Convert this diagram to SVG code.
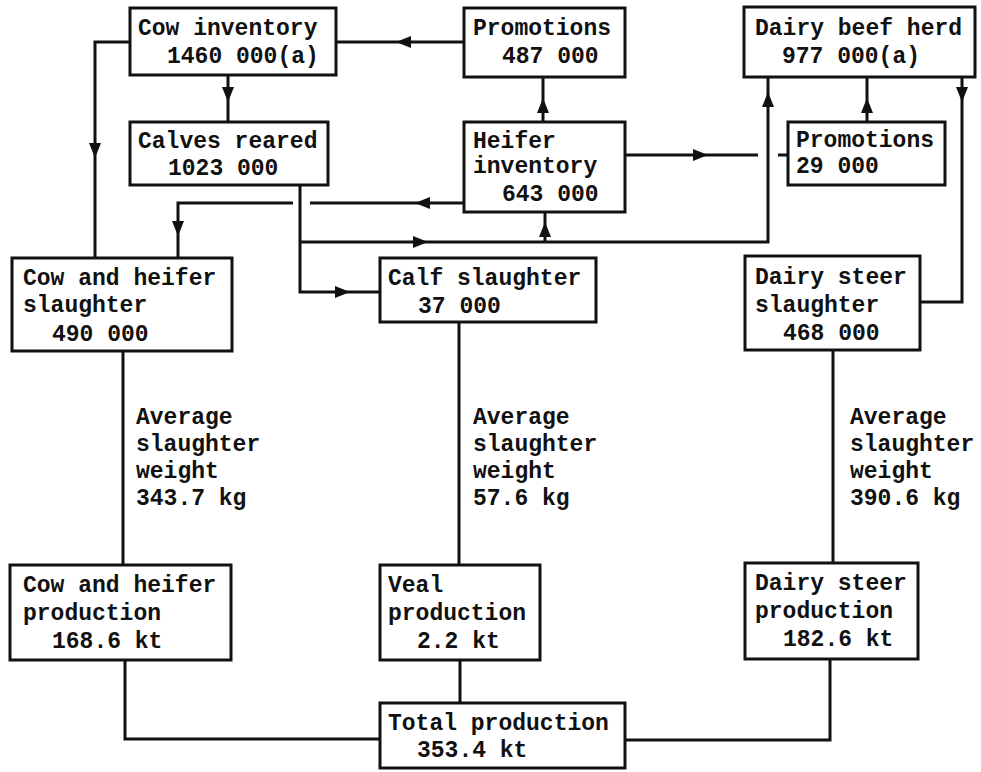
<svg xmlns="http://www.w3.org/2000/svg" width="981" height="772" viewBox="0 0 981 772">
<style>
.box{fill:none;stroke:#111;stroke-width:3}
.ln{fill:none;stroke:#111;stroke-width:3}
text{font-family:"Liberation Mono","Courier New",monospace;font-weight:bold;font-size:23px;fill:#111}
</style>
<defs>
<path id="ah" d="M0,0 L-15,-6 L-15,6 Z" fill="#111"/>
</defs>
<rect width="981" height="772" fill="#fff"/>
<g id="connectors">
<polyline class="ln" points="130,42 95,42 95,258"/>
<line class="ln" x1="228" y1="75" x2="228" y2="122"/>
<line class="ln" x1="464" y1="42" x2="336" y2="42"/>
<line class="ln" x1="543" y1="122" x2="543" y2="77"/>
<line class="ln" x1="625" y1="155" x2="758" y2="155"/>
<line class="ln" x1="778" y1="155" x2="788" y2="155"/>
<polyline class="ln" points="300,185 300,292 380,292"/>
<line class="ln" x1="464" y1="203" x2="310" y2="203"/>
<polyline class="ln" points="293,203 178,203 178,258"/>
<polyline class="ln" points="300,242 768,242 768,77"/>
<line class="ln" x1="545" y1="242" x2="545" y2="212"/>
<line class="ln" x1="867" y1="122" x2="867" y2="77"/>
<polyline class="ln" points="962,77 962,302 920,302"/>
<line class="ln" x1="123" y1="351" x2="123" y2="565"/>
<line class="ln" x1="459" y1="322" x2="459" y2="565"/>
<line class="ln" x1="833" y1="350" x2="833" y2="563"/>
<polyline class="ln" points="125,660 125,739 380,739"/>
<line class="ln" x1="460" y1="660" x2="460" y2="703"/>
<polyline class="ln" points="830,659 830,740 625,740"/>
<use href="#ah" transform="translate(95,158) rotate(90)"/>
<use href="#ah" transform="translate(228,102) rotate(90)"/>
<use href="#ah" transform="translate(396,42) rotate(180)"/>
<use href="#ah" transform="translate(543,98) rotate(-90)"/>
<use href="#ah" transform="translate(708,155)"/>
<use href="#ah" transform="translate(350,292)"/>
<use href="#ah" transform="translate(415,203) rotate(180)"/>
<use href="#ah" transform="translate(178,236) rotate(90)"/>
<use href="#ah" transform="translate(428,242)"/>
<use href="#ah" transform="translate(545,222) rotate(-90)"/>
<use href="#ah" transform="translate(768,92) rotate(-90)"/>
<use href="#ah" transform="translate(867,98) rotate(-90)"/>
<use href="#ah" transform="translate(962,102) rotate(90)"/>
</g>
<g id="cow-inventory"><rect class="box" x="130" y="8" width="206" height="67"/><text x="138" y="35">Cow inventory</text><text x="167" y="63">1460 000(a)</text></g>
<g id="promotions-1"><rect class="box" x="464" y="8" width="161" height="69"/><text x="473" y="35">Promotions</text><text x="502" y="63">487 000</text></g>
<g id="dairy-beef-herd"><rect class="box" x="744" y="7" width="231" height="70"/><text x="755" y="35">Dairy beef herd</text><text x="782" y="63">977 000(a)</text></g>
<g id="calves-reared"><rect class="box" x="130" y="122" width="198" height="63"/><text x="138" y="148">Calves reared</text><text x="168" y="175">1023 000</text></g>
<g id="heifer-inventory"><rect class="box" x="464" y="122" width="161" height="90"/><text x="473" y="148">Heifer</text><text x="473" y="173">inventory</text><text x="502" y="201">643 000</text></g>
<g id="promotions-2"><rect class="box" x="788" y="122" width="157" height="63"/><text x="796" y="147">Promotions</text><text x="796" y="173">29 000</text></g>
<g id="cow-heifer-slaughter"><rect class="box" x="12" y="258" width="220" height="93"/><text x="23" y="285">Cow and heifer</text><text x="23" y="312">slaughter</text><text x="52" y="341">490 000</text></g>
<g id="calf-slaughter"><rect class="box" x="380" y="258" width="216" height="64"/><text x="388" y="285">Calf slaughter</text><text x="418" y="313">37 000</text></g>
<g id="dairy-steer-slaughter"><rect class="box" x="745" y="256" width="175" height="94"/><text x="755" y="284">Dairy steer</text><text x="755" y="312">slaughter</text><text x="783" y="340">468 000</text></g>
<g id="weight-1"><text x="136" y="424">Average</text><text x="136" y="451">slaughter</text><text x="136" y="478">weight</text><text x="136" y="505">343.7 kg</text></g>
<g id="weight-2"><text x="473" y="424">Average</text><text x="473" y="451">slaughter</text><text x="473" y="478">weight</text><text x="473" y="505">57.6 kg</text></g>
<g id="weight-3"><text x="850" y="424">Average</text><text x="850" y="451">slaughter</text><text x="850" y="478">weight</text><text x="850" y="505">390.6 kg</text></g>
<g id="cow-heifer-production"><rect class="box" x="10" y="565" width="221" height="95"/><text x="23" y="592">Cow and heifer</text><text x="23" y="620">production</text><text x="52" y="648">168.6 kt</text></g>
<g id="veal-production"><rect class="box" x="380" y="565" width="160" height="95"/><text x="388" y="592">Veal</text><text x="388" y="620">production</text><text x="417" y="648">2.2 kt</text></g>
<g id="dairy-steer-production"><rect class="box" x="745" y="563" width="173" height="96"/><text x="755" y="590">Dairy steer</text><text x="755" y="618">production</text><text x="783" y="646">182.6 kt</text></g>
<g id="total-production"><rect class="box" x="380" y="703" width="245" height="65"/><text x="388" y="730">Total production</text><text x="417" y="757">353.4 kt</text></g>
</svg>
